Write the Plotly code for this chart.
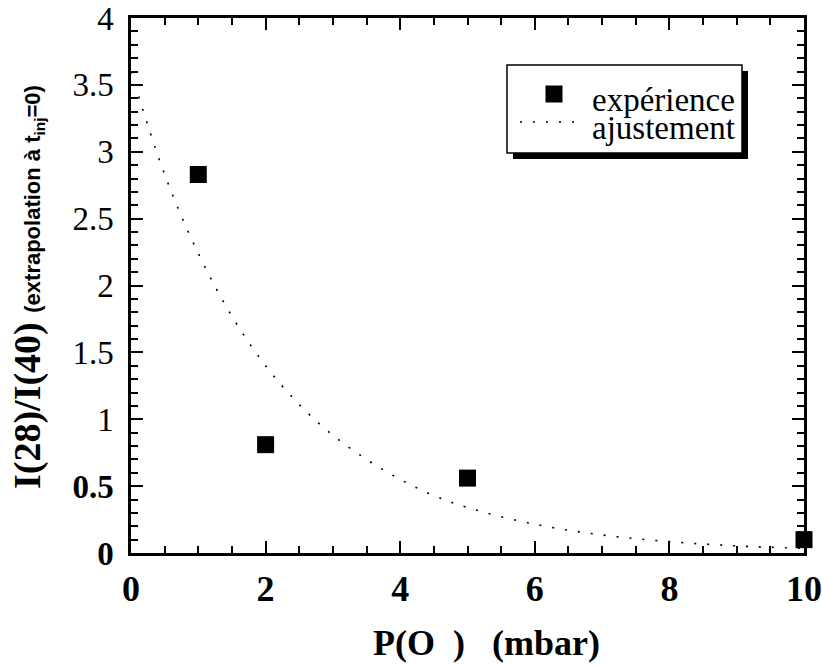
import plotly.graph_objects as go

# Experimental points
p_exp = [1, 2, 5, 10]
ratio_exp = [2.83, 0.81, 0.56, 0.10]

# Fitted curve
p_fit = [0, 0.5, 1, 1.5, 2, 2.5, 3, 3.5, 4, 4.5, 5, 6, 7, 8, 9, 10]
ratio_fit = [3.60, 2.83, 2.24, 1.77, 1.40, 1.11, 0.88, 0.70, 0.55, 0.43, 0.34, 0.215, 0.135, 0.085, 0.053, 0.035]

x_ticks = [0, 2, 4, 6, 8, 10]
y_ticks = [0, 0.5, 1, 1.5, 2, 2.5, 3, 3.5, 4]
y_ticktext = ["<b>0</b>", "<b>0.5</b>", "1", "1.5", "2", "2.5", "3", "3.5", "4"]

legend_names = ["expérience", "ajustement"]

SERIF = "Liberation Serif"
SANS = "Liberation Sans"

fig = go.Figure()
fig.add_trace(go.Scatter(
    x=p_exp, y=ratio_exp, mode="markers", name=legend_names[0],
    marker=dict(symbol="square", size=17, color="black", line=dict(width=0)),
    showlegend=False, cliponaxis=False,
))
fig.add_trace(go.Scatter(
    x=p_fit, y=ratio_fit, mode="lines", name=legend_names[1],
    line=dict(color="black", width=1.6, dash="2px,11px", shape="spline", smoothing=1.0),
    showlegend=False,
))

L, R, T, B = 131, 18, 18, 113
W, H = 822, 666
pw, ph = W - L - R, H - T - B

def px2x(px):
    return (px - L) / pw

def py2y(py):
    return (H - B - py) / ph

# hand-drawn legend (shadowed box) as in the reference
fig.add_shape(type="rect", xref="paper", yref="paper",
              x0=px2x(513), x1=px2x(748), y0=py2y(159), y1=py2y(71),
              fillcolor="black", line=dict(width=0), layer="above")
fig.add_shape(type="rect", xref="paper", yref="paper",
              x0=px2x(507), x1=px2x(742), y0=py2y(153), y1=py2y(65),
              fillcolor="white", line=dict(color="black", width=1.5), layer="above")
fig.add_shape(type="rect", xref="paper", yref="paper",
              x0=px2x(545.5), x1=px2x(562.5), y0=py2y(102.5), y1=py2y(85.5),
              fillcolor="black", line=dict(width=0), layer="above")
fig.add_shape(type="line", xref="paper", yref="paper",
              x0=px2x(520), x1=px2x(584), y0=py2y(122), y1=py2y(122),
              line=dict(color="black", width=1.6, dash="2px,11px"), layer="above")
for name, cy in zip(legend_names, [100, 128]):
    fig.add_annotation(
        text=name, xref="paper", yref="paper", x=px2x(590), y=py2y(cy),
        xanchor="left", yanchor="middle", showarrow=False,
        font=dict(family=SERIF, size=33, color="black"),
    )

fig.add_annotation(
    text="<b>P(O\u00a0\u00a0)\u00a0\u00a0\u00a0(mbar)</b>",
    xref="paper", yref="paper", x=px2x(486), y=py2y(643),
    xanchor="center", yanchor="middle", showarrow=False,
    font=dict(family=SERIF, size=36, color="black"),
)

fig.add_annotation(
    text="<b>I(28)/I(40)</b> <span style='font-family:Liberation Sans;font-size:22px'><b>(extrapolation à t<sub>inj</sub>=0)</b></span>",
    xref="paper", yref="paper", x=px2x(27), y=py2y(287),
    xanchor="center", yanchor="middle", showarrow=False, textangle=-90,
    font=dict(family=SERIF, size=38, color="black"),
)

axis_common = dict(
    showgrid=False, zeroline=False, showline=True, linecolor="black", linewidth=2.5,
    mirror="allticks", ticks="inside", tickcolor="black", tickwidth=2, automargin=False,
)

fig.update_layout(
    width=W, height=H,
    margin=dict(l=L, r=R, t=T, b=B, pad=0),
    paper_bgcolor="white", plot_bgcolor="white",
    showlegend=False,
    xaxis=dict(
        range=[0, 10], tickvals=x_ticks, ticklen=12,
        tickfont=dict(family=SERIF, size=36, color="black", weight="bold"),
        minor=dict(dtick=0.5, ticklen=7, tickcolor="black", tickwidth=2, ticks="inside"),
        ticklabelstandoff=2,
        **axis_common,
    ),
    yaxis=dict(
        range=[0, 4], tickvals=y_ticks, ticktext=y_ticktext, ticklen=12,
        tickfont=dict(family=SERIF, size=33, color="black"),
        minor=dict(dtick=0.1, ticklen=7, tickcolor="black", tickwidth=2, ticks="inside"),
        ticklabelstandoff=8,
        **axis_common,
    ),
)

fig.write_html("out.html", config={"displayModeBar": False},
               post_script="document.body.style.margin='0';")
